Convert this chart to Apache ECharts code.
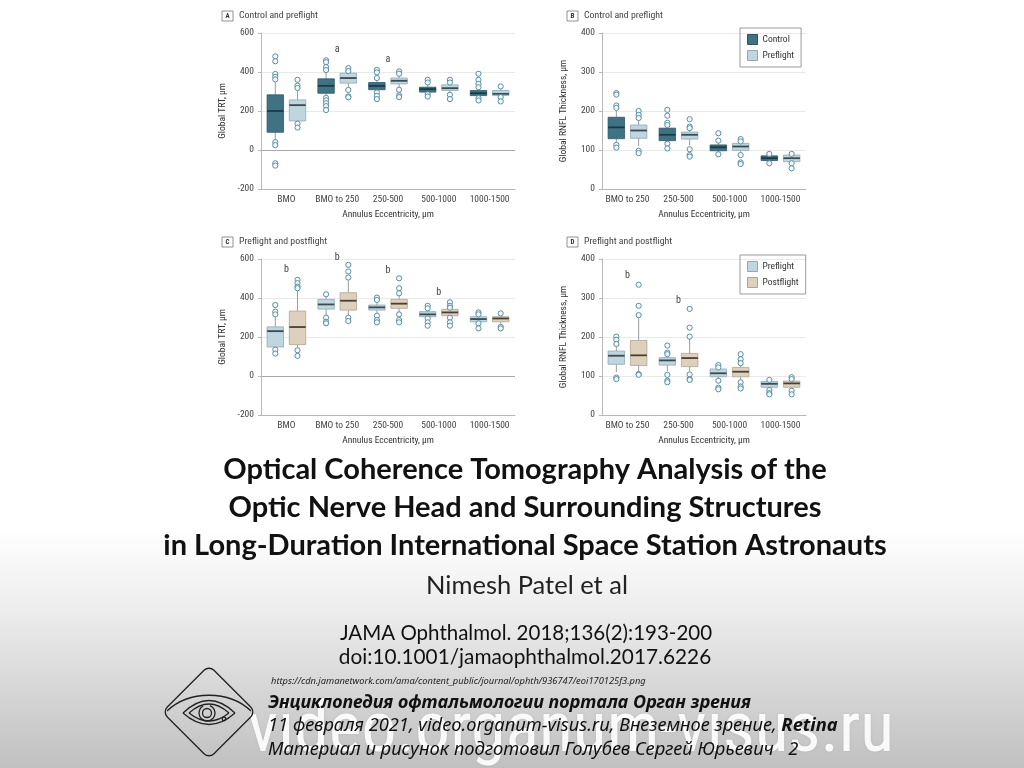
<!DOCTYPE html>
<html>
<head>
<meta charset="utf-8">
<script src="https://cdn.jsdelivr.net/npm/echarts@6/dist/echarts.min.js"></script>
<style>
html,body{margin:0;padding:0;background:#fff;}
#chart{width:1024px;height:768px;}
</style>
</head>
<body>
<div id="chart"></div>
<script>
// ---------- data ----------
const catsTRT = ['BMO', 'BMO to 250', '250-500', '500-1000', '1000-1500'];
const catsRNFL = ['BMO to 250', '250-500', '500-1000', '1000-1500'];

// stats per category: [lower whisker, Q1, median, Q3, upper whisker]
const aControlStats = [[50,91,200,283,350],[280,291,329,365,400],[300,309,329,346,360],[290,297,312,322,335],[275,279,291,305,315]];
const aControlOut = [[480,455,390,375,362,40,25,-68,-80],[460,450,425,410,268,255,240,225,205],[411,398,369,295,278,261],[360,346,286,274],[391,360,339,322,266,254]];
const aPreStats = [[145,149,230,257,310],[315,343,369,394,400],[320,339,355,369,385],[292,305,317,334,340],[276,279,288,305,312]];
const aPreOut = [[360,330,318,135,115],[420,405,308,275,270],[403,391,309,280,271],[360,346,283,261],[326,271,249]];

const bControlStats = [[120,129,158,184,200],[118,124,139,156,160],[92,98,107,113,118],[70,73,79,85,88]];
const bControlOut = [[246,242,214,208,113,106],[203,188,170,164,116,104],[143,124,89],[90,66]];
const bPreStats = [[110,130,150,164,178],[112,128,139,146,152],[92,99,109,117,120],[62,70,79,87,89]];
const bPreOut = [[200,190,182,98,92],[179,160,156,102,87,83],[128,122,87,68,64],[90,66,53]];

const cPreStats = [[143,149,230,252,310],[310,343,367,393,405],[320,338,352,364,380],[298,304,316,330,345],[275,278,292,304,312]];
const cPreOut = [[364,330,316,135,115],[419,299,278,270],[402,390,309,287,275],[360,347,295,275,258],[326,316,270,244]];
const cPostStats = [[148,161,251,333,436],[305,338,386,427,490],[325,347,371,393,420],[300,309,326,342,348],[268,278,295,304,312]];
const cPostOut = [[493,476,458,450,132,103],[570,536,505,299,282],[501,450,424,316,287,275],[378,360,350,299,275,258],[321,252,244]];

const dPreStats = [[110,130,152,164,180],[112,128,140,147,152],[92,98,107,118,120],[66,71,80,86,88]];
const dPreOut = [[201,193,182,96,92],[178,160,156,103,88,84],[128,122,88,70,66],[90,64,56,53]];
const dPostStats = [[110,127,153,191,248],[112,124,146,158,196],[92,98,111,122,130],[66,71,81,87,90]];
const dPostOut = [[334,280,256,105,103],[272,224,201,104,92,90],[156,143,133,84,73,68],[97,92,62,53]];

// significance letters
const aNotes = [['BMO to 250', 513, 'a'], ['250-500', 462, 'a']];
const cNotes = [['BMO', 544, 'b'], ['BMO to 250', 610, 'b'], ['250-500', 540, 'b'], ['500-1000', 430, 'b']];
const dNotes = [['BMO to 250', 357, 'b'], ['250-500', 293, 'b']];

const panelLetters = ['A', 'B', 'C', 'D'];
const panelTitles = ['Control and preflight', 'Control and preflight', 'Preflight and postflight', 'Preflight and postflight'];
const yNames = ['Global TRT, μm', 'Global RNFL Thickness, μm', 'Global TRT, μm', 'Global RNFL Thickness, μm'];
const xName = 'Annulus Eccentricity, μm';

// ---------- styles ----------
const NF = '"Liberation Sans Narrow", "Roboto Condensed", "DejaVu Sans Condensed", Roboto, sans-serif';
const COLORS = {
  Control: {fill: '#3f7383', stroke: '#2d5663', median: '#1c3a44'},
  Preflight: {fill: '#bfd6df', stroke: '#8faab4', median: '#394a50'},
  Postflight: {fill: '#ddd1be', stroke: '#b1a38f', median: '#4a3f36'}
};

function groupLayout(bw) {
  const avail = bw * 0.8 - 2;
  const gap = avail / 2 * 0.3;
  const boxW = (avail - gap) / 2;
  return {boxW: boxW, off: (boxW + gap) / 2};
}

function boxSeries(name, stats, side, gi) {
  const c = COLORS[name];
  return {
    type: 'custom', name: name, xAxisIndex: gi, yAxisIndex: gi,
    itemStyle: {color: c.fill, borderColor: c.stroke, borderWidth: 1},
    data: stats.map((s, i) => [i].concat(s)),
    encode: {x: 0, y: [1, 2, 3, 4, 5]},
    renderItem: function (params, api) {
      const cat = api.value(0);
      const L = groupLayout(api.size([1, 0])[0]);
      const x = api.coord([cat, 0])[0] + side * L.off;
      const y = k => api.coord([cat, api.value(k)])[1];
      const lo = y(1), q1 = y(2), md = y(3), q3 = y(4), hi = y(5);
      const hw = L.boxW / 2;
      return {type: 'group', children: [
        {type: 'line', shape: {x1: x, y1: hi, x2: x, y2: q3}, style: {stroke: '#9c9c9c', lineWidth: 1}},
        {type: 'line', shape: {x1: x, y1: q1, x2: x, y2: lo}, style: {stroke: '#9c9c9c', lineWidth: 1}},
        {type: 'rect', shape: {x: x - hw, y: q3, width: L.boxW, height: q1 - q3}, style: {fill: c.fill, stroke: c.stroke, lineWidth: 0.8}},
        {type: 'line', shape: {x1: x - hw, y1: md, x2: x + hw, y2: md}, style: {stroke: c.median, lineWidth: 1.8}}
      ]};
    }
  };
}

function outSeries(outs, side, gi) {
  const data = [];
  outs.forEach((arr, i) => arr.forEach(v => data.push([i, v])));
  return {
    type: 'custom', name: 'out', xAxisIndex: gi, yAxisIndex: gi, z: 5,
    data: data, encode: {x: 0, y: 1},
    renderItem: function (params, api) {
      const L = groupLayout(api.size([1, 0])[0]);
      const p = api.coord([api.value(0), api.value(1)]);
      return {type: 'circle', shape: {cx: p[0] + side * L.off, cy: p[1], r: 2.6},
        style: {fill: 'rgba(245,249,250,0.9)', stroke: '#5a8fa1', lineWidth: 1}};
    }
  };
}

function noteSeries(notes, cats, gi) {
  return {
    type: 'custom', name: 'note', xAxisIndex: gi, yAxisIndex: gi, z: 6,
    data: notes.map(n => [cats.indexOf(n[0]), n[1]]),
    encode: {x: 0, y: 1},
    renderItem: function (params, api) {
      const p = api.coord([api.value(0), api.value(1)]);
      return {type: 'text', x: p[0], y: p[1],
        style: {text: notes[params.dataIndex][2], fill: '#444', fontSize: 10, fontFamily: NF, align: 'center', verticalAlign: 'middle'}};
    }
  };
}

const gridPos = [
  {left: 261, top: 33, width: 254, height: 156},
  {left: 602, top: 33, width: 204, height: 156},
  {left: 261, top: 259, width: 254, height: 156},
  {left: 602, top: 259, width: 204, height: 156}
];
const catsByGrid = [catsTRT, catsRNFL, catsTRT, catsRNFL];
const yRange = [[-200, 600, 200], [0, 400, 100], [-200, 600, 200], [0, 400, 100]];

const xAxes = catsByGrid.map((cats, gi) => ({
  type: 'category', gridIndex: gi, data: cats,
  axisLine: {onZero: false, lineStyle: {color: '#b8b8b8'}},
  axisTick: {show: false},
  axisLabel: {interval: 0, fontSize: 9.5, color: '#444', margin: 6, fontFamily: NF},
  splitLine: {show: false},
  name: xName, nameLocation: 'middle', nameGap: 21,
  nameTextStyle: {fontSize: 9.5, color: '#333', fontFamily: NF}
}));
const yAxes = yRange.map((r, gi) => ({
  type: 'value', gridIndex: gi, min: r[0], max: r[1], interval: r[2],
  axisLine: {show: true, lineStyle: {color: '#b8b8b8'}},
  axisTick: {show: true, length: 3, lineStyle: {color: '#b8b8b8'}},
  axisLabel: {fontSize: 9.5, color: '#444', margin: 7, fontFamily: NF},
  splitLine: {show: true, lineStyle: {color: r[0] < 0 ? ['#d0d0d0', '#a9a9a9', '#e9e9e9', '#e9e9e9', '#e9e9e9'] : ['#bbbbbb', '#e9e9e9', '#e9e9e9', '#e9e9e9', '#e9e9e9'], width: 1}},
  name: yNames[gi], nameLocation: 'middle', nameGap: 33, nameRotate: 90,
  nameTextStyle: {fontSize: 9.5, color: '#333', fontFamily: NF}
}));

const series = [
  boxSeries('Control', aControlStats, -1, 0), boxSeries('Preflight', aPreStats, 1, 0),
  outSeries(aControlOut, -1, 0), outSeries(aPreOut, 1, 0), noteSeries(aNotes, catsTRT, 0),
  boxSeries('Control', bControlStats, -1, 1), boxSeries('Preflight', bPreStats, 1, 1),
  outSeries(bControlOut, -1, 1), outSeries(bPreOut, 1, 1),
  boxSeries('Preflight', cPreStats, -1, 2), boxSeries('Postflight', cPostStats, 1, 2),
  outSeries(cPreOut, -1, 2), outSeries(cPostOut, 1, 2), noteSeries(cNotes, catsTRT, 2),
  boxSeries('Preflight', dPreStats, -1, 3), boxSeries('Postflight', dPostStats, 1, 3),
  outSeries(dPreOut, -1, 3), outSeries(dPostOut, 1, 3), noteSeries(dNotes, catsRNFL, 3)
];

function legendItem(n) {
  return {name: n, itemStyle: {color: COLORS[n].fill, borderColor: COLORS[n].stroke, borderWidth: 1}};
}
const legendBase = {orient: 'vertical', icon: 'rect', itemWidth: 10, itemHeight: 10, itemGap: 5,
  borderColor: '#9a9a9a', borderWidth: 1, padding: [6, 7, 6, 7], selectedMode: false,
  textStyle: {fontSize: 9.5, color: '#333', fontFamily: NF}};
const legends = [
  Object.assign({}, legendBase, {left: 740, top: 28, data: ['Control', 'Preflight'].map(legendItem)}),
  Object.assign({}, legendBase, {left: 740, top: 255, data: ['Preflight', 'Postflight'].map(legendItem)})
];

// panel headers
const headerPos = [[222, 16], [567, 16], [222, 242], [567, 242]];
const graphics = [];
graphics.push({type: 'rect', z: -10, shape: {x: 0, y: 530, width: 1024, height: 238},
  style: {fill: new echarts.graphic.LinearGradient(0, 0, 0, 1, [{offset: 0, color: '#ffffff'}, {offset: 0.35, color: '#ececec'}, {offset: 1, color: '#c0c0c0'}])}});
headerPos.forEach((p, i) => {
  graphics.push({type: 'rect', shape: {x: p[0], y: p[1] - 5, width: 11, height: 10}, style: {fill: '#fff', stroke: '#777', lineWidth: 0.8}});
  graphics.push({type: 'text', x: p[0] + 5.5, y: p[1], style: {text: panelLetters[i], fontSize: 7, fontWeight: 'bold', fontFamily: NF, fill: '#333', align: 'center', verticalAlign: 'middle'}});
  graphics.push({type: 'text', x: p[0] + 17, y: p[1], style: {text: panelTitles[i], fontSize: 9.8, fontFamily: NF, fill: '#444', align: 'left', verticalAlign: 'middle'}});
});

// bottom texts
const titleLines = ['Optical Coherence Tomography Analysis of the', 'Optic Nerve Head and Surrounding Structures', 'in Long-Duration International Space Station Astronauts'];
const titleY = [470, 508, 546];
titleLines.forEach((t, i) => graphics.push({type: 'text', x: 525, y: titleY[i],
  style: {text: t, fontSize: 29, fontWeight: 'bold', fontFamily: 'Lato, "Open Sans", sans-serif', fill: '#111', align: 'center', verticalAlign: 'middle'}}));
graphics.push({type: 'text', x: 527, y: 586, style: {text: 'Nimesh Patel et al', fontSize: 25.5, fontFamily: 'Lato, sans-serif', fill: '#222', align: 'center', verticalAlign: 'middle'}});
graphics.push({type: 'text', x: 526, y: 633, style: {text: 'JAMA Ophthalmol. 2018;136(2):193-200', fontSize: 20.5, fontFamily: 'Lato, sans-serif', fill: '#111', align: 'center', verticalAlign: 'middle'}});
graphics.push({type: 'text', x: 525, y: 657, style: {text: 'doi:10.1001/jamaophthalmol.2017.6226', fontSize: 20.8, fontFamily: 'Lato, sans-serif', fill: '#111', align: 'center', verticalAlign: 'middle'}});
graphics.push({type: 'text', x: 571, y: 733, style: {text: 'video.organum-visus.ru', fontSize: 70, fontFamily: NF, fill: 'rgba(255,255,255,0.92)', align: 'center', verticalAlign: 'middle', textShadowColor: 'rgba(0,0,0,0.12)', textShadowBlur: 2}});
graphics.push({type: 'text', x: 271, y: 681, style: {text: 'https://cdn.jamanetwork.com/ama/content_public/journal/ophth/936747/eoi170125f3.png', fontSize: 9.3, fontStyle: 'italic', fontFamily: '"Noto Sans", sans-serif', fill: '#222', align: 'left', verticalAlign: 'middle'}});
graphics.push({type: 'text', x: 268, y: 703, style: {text: 'Энциклопедия офтальмологии портала Орган зрения', fontSize: 18, fontStyle: 'italic', fontWeight: 'bold', fontFamily: '"Noto Sans", "DejaVu Sans", sans-serif', fill: '#111', align: 'left', verticalAlign: 'middle'}});
graphics.push({type: 'text', x: 268, y: 726, style: {text: '11 февраля 2021, video.organum-visus.ru, Внеземное зрение, {b|Retina}', fontSize: 18.3, fontStyle: 'italic', fontFamily: '"Noto Sans", "DejaVu Sans", sans-serif', fill: '#111', align: 'left', verticalAlign: 'middle',
  rich: {b: {fontSize: 18.3, fontStyle: 'italic', fontWeight: 'bold', fontFamily: '"Noto Sans", "DejaVu Sans", sans-serif', fill: '#111'}}}});
graphics.push({type: 'text', x: 268, y: 750, style: {text: 'Материал и рисунок подготовил Голубев Сергей Юрьевич   2', fontSize: 18.4, fontStyle: 'italic', fontFamily: '"Noto Sans", "DejaVu Sans", sans-serif', fill: '#111', align: 'left', verticalAlign: 'middle'}});

// logo
const ink = {fill: 'none', stroke: '#222', lineWidth: 1.3};
graphics.push({type: 'group', x: 209, y: 712, children: [
  {type: 'rect', rotation: Math.PI / 4, shape: {x: -33, y: -33, width: 66, height: 66, r: 7}, style: ink},
  {type: 'bezierCurve', shape: {x1: -42, y1: -1, x2: 42, y2: -1, cpx1: -20, cpy1: -22, cpx2: 20, cpy2: -22}, style: ink},
  {type: 'bezierCurve', shape: {x1: -26, y1: 1, x2: 26, y2: 1, cpx1: 0, cpy1: -24}, style: ink},
  {type: 'bezierCurve', shape: {x1: -26, y1: 1, x2: 26, y2: 1, cpx1: 0, cpy1: 24}, style: ink},
  {type: 'bezierCurve', shape: {x1: -20, y1: 1, x2: 20, y2: 1, cpx1: 0, cpy1: -17}, style: ink},
  {type: 'bezierCurve', shape: {x1: -20, y1: 1, x2: 20, y2: 1, cpx1: 0, cpy1: 17}, style: ink},
  {type: 'arc', shape: {cx: -2, cy: 1, r: 8, startAngle: -1.2, endAngle: 4.2}, style: ink},
  {type: 'circle', shape: {cx: -2, cy: 1, r: 4.5}, style: ink},
  {type: 'circle', shape: {cx: 15, cy: 7, r: 1.8}, style: ink}
]});

const chart = echarts.init(document.getElementById('chart'));
chart.setOption({
  backgroundColor: '#ffffff',
  animation: false,
  grid: gridPos,
  xAxis: xAxes,
  yAxis: yAxes,
  legend: legends,
  series: series,
  graphic: graphics
});
</script>
</body>
</html>
